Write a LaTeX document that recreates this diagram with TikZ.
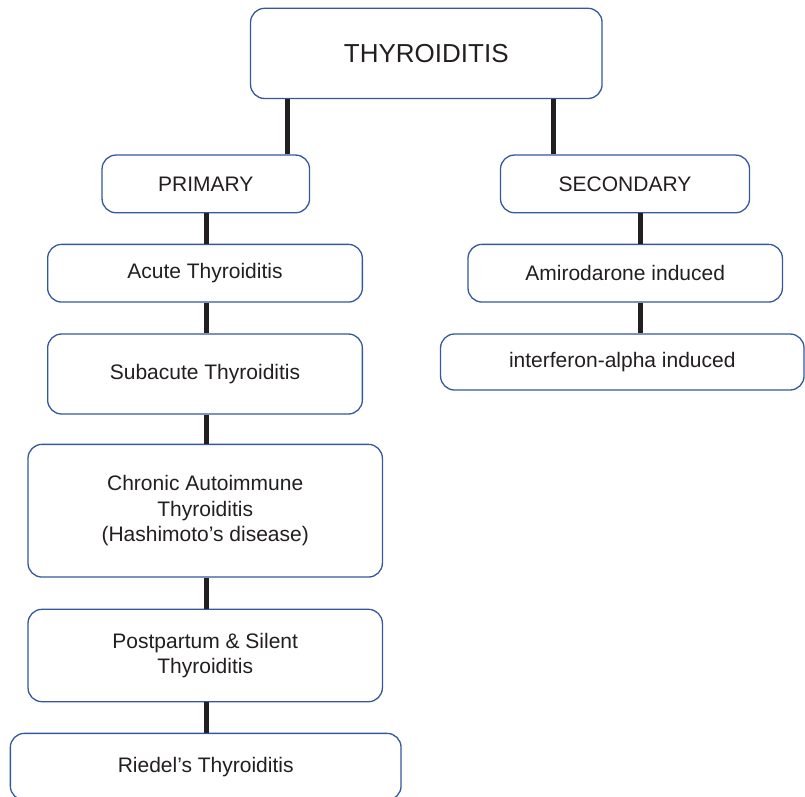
\documentclass[tikz,border=0pt]{standalone}
\usepackage{fontspec}
\setmainfont{Liberation Sans}
\definecolor{boxblue}{RGB}{52,88,160}
\definecolor{ink}{RGB}{35,31,32}
\begin{document}
\begin{tikzpicture}[x=1pt,y=-1pt,
  box/.style={draw=boxblue,line width=1.3pt,rounded corners=14pt,fill=white,
    rectangle,inner sep=0pt,align=center,text=ink,
    font=\fontsize{21}{25.5}\selectfont},
  conn/.style={draw=ink,line width=5pt}]
\useasboundingbox (0,0) rectangle (805,796);
\node[box,minimum width=351.5,minimum height=90.2,font=\fontsize{26}{30}\selectfont] (top) at (426.3,53.4) {THYROIDITIS};
\node[box,minimum width=207.5,minimum height=57.7] (primary) at (205.8,183.9) {PRIMARY};
\node[box,minimum width=249,minimum height=57.7] (secondary) at (625,183.9) {SECONDARY};
\node[box,minimum width=314.7,minimum height=57.7] (acute) at (205,273.2) {Acute Thyroiditis};
\node[box,minimum width=314.4,minimum height=57.7] (amiro) at (625.2,273.2) {Amirodarone induced};
\node[box,minimum width=363.5,minimum height=56] (inter) at (622.3,362) {interferon-alpha induced};
\node[box,minimum width=314.7,minimum height=80] (subacute) at (205,374) {Subacute Thyroiditis};
\node[box,minimum width=354.4,minimum height=132.7] (chronic) at (205.2,510.7) {Chronic Autoimmune\\Thyroiditis\\(Hashimoto’s disease)};
\node[box,minimum width=354.4,minimum height=92.4] (post) at (205.2,655.5) {Postpartum \& Silent\\Thyroiditis};
\node[box,minimum width=390.7,minimum height=66.7] (riedel) at (205.7,766.7) {Riedel’s Thyroiditis};
\coordinate (tl) at (287,0);
\coordinate (tr) at (553,0);
\coordinate (sr) at (640,0);
\coordinate (pc) at (206,0);
\draw[conn] (tl |- top.south) -- (tl |- primary.north);
\draw[conn] (tr |- top.south) -- (tr |- secondary.north);
\draw[conn] (pc |- primary.south) -- (pc |- acute.north);
\draw[conn] (pc |- acute.south) -- (pc |- subacute.north);
\draw[conn] (pc |- subacute.south) -- (pc |- chronic.north);
\draw[conn] (pc |- chronic.south) -- (pc |- post.north);
\draw[conn] (pc |- post.south) -- (pc |- riedel.north);
\draw[conn] (sr |- secondary.south) -- (sr |- amiro.north);
\draw[conn] (sr |- amiro.south) -- (sr |- inter.north);
\end{tikzpicture}
\end{document}
